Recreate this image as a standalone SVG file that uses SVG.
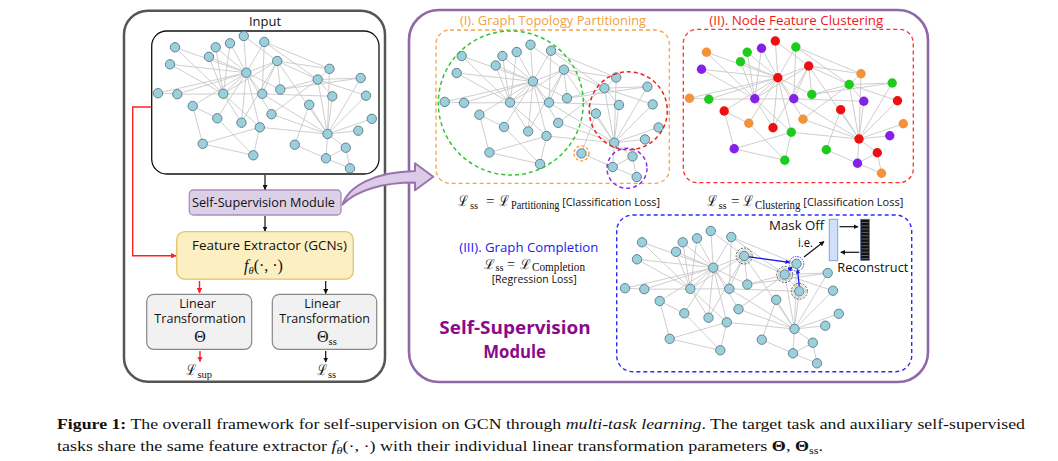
<svg xmlns="http://www.w3.org/2000/svg" xmlns:xlink="http://www.w3.org/1999/xlink" width="1058" height="461" viewBox="0 0 1058 461">
<style>
.e{stroke:#c8c8c8;stroke-width:0.9;fill:none}
.nd{fill:#9ccfdc;stroke:#4d6c78;stroke-width:0.8}
.cm{font-family:'Open Sans','DejaVu Sans',sans-serif;fill:#111}
.tm{font-family:'Liberation Serif','DejaVu Serif',serif;fill:#111}
.cal{font-family:'DejaVu Serif',serif;font-size:15px;fill:#111}
.ak{stroke:#111;stroke-width:1.2;fill:none}
.ar{stroke:#ff2020;stroke-width:1.4;fill:none}
.o{fill:#f3923a}.p{fill:#8420e8}.g{fill:#1ccc1c}.r{fill:#ee1010}
</style>
<defs>
<marker id="mk" viewBox="0 0 10 10" refX="9" refY="5" markerWidth="5" markerHeight="5" markerUnits="userSpaceOnUse" orient="auto"><path d="M0 0L10 5L0 10z" fill="#111"/></marker>
<marker id="mr" viewBox="0 0 10 10" refX="9" refY="5" markerWidth="5.5" markerHeight="5.5" markerUnits="userSpaceOnUse" orient="auto"><path d="M0 0L10 5L0 10z" fill="#ff2020"/></marker>
<marker id="mb" viewBox="0 0 10 10" refX="9" refY="5" markerWidth="4.5" markerHeight="4.5" markerUnits="userSpaceOnUse" orient="auto"><path d="M0 0L10 5L0 10z" fill="#1515ee"/></marker>
<path id="E" class="e" d="M175 47.3L246.3 72.7M175 47.3L223.3 93.8M170 64.3L246.3 72.7M170 64.3L223.3 93.8M158 93.2L177.3 94.2M158 93.2L246.3 72.7M177.3 94.2L246.3 72.7M177.3 94.2L262.3 93.8M192.7 106L246.3 72.7M192.7 106L202.7 143.8M192.7 106L217.3 118.3M215.7 47.3L246.3 72.7M215.7 47.3L223.3 93.8M209 56.8L246.3 72.7M209 56.8L223.3 93.8M230 43.3L246.3 72.7M230 43.3L223.3 93.8M243.8 36L246.3 72.7M243.8 36L277.2 61M264.3 42L246.3 72.7M264.3 42L262.3 93.8M264.3 42L317.7 79.5M264.3 42L329.5 68.8M277.2 61L246.3 72.7M277.2 61L223.3 93.8M277.2 61L262.3 93.8M277.2 61L280.3 89.5M277.2 61L241.5 122.7M277.2 61L317.7 79.5M277.2 61L329.5 68.8M277.2 61L327.5 134M246.3 72.7L223.3 93.8M246.3 72.7L262.3 93.8M246.3 72.7L280.3 89.5M246.3 72.7L217.3 118.3M246.3 72.7L241.5 122.7M246.3 72.7L259.8 127.3M246.3 72.7L271.5 114.2M223.3 93.8L259.8 127.3M223.3 93.8L241.5 122.7M262.3 93.8L327.5 134M280.3 89.5L317.7 79.5M280.3 89.5L360.7 78M217.3 118.3L253.3 155.3M259.8 127.3L253.3 155.3M259.8 127.3L202.7 143.8M202.7 143.8L253.3 155.3M259.8 127.3L327.5 134M271.5 114.2L327.5 134M271.5 114.2L317.7 79.5M317.7 79.5L329.5 68.8M317.7 79.5L360.7 78M317.7 79.5L332.3 96.3M317.7 79.5L366 95.7M317.7 79.5L327.5 134M329.5 68.8L327.5 134M360.7 78L327.5 134M332.3 96.3L327.5 134M366 95.7L327.5 134M309.2 104.8L327.5 134M309.2 104.8L294.8 144.7M371.8 118.8L327.5 134M358.3 130.7L327.5 134M294.8 144.7L326 158.3M345.8 147.7L327.5 134M345.8 147.7L326 158.3M345.8 147.7L350 168.3M326 158.3L327.5 134M326 158.3L350 168.3M262.3 93.8L332.3 96.3"/>
<g id="N">
<circle id="c1" cx="175" cy="47.3" r="4.7"/><circle id="c2" cx="170" cy="64.3" r="4.7"/><circle id="c3" cx="158" cy="93.2" r="4.7"/><circle id="c4" cx="177.3" cy="94.2" r="4.7"/><circle id="c5" cx="192.7" cy="106" r="4.7"/><circle id="c6" cx="215.7" cy="47.3" r="4.7"/><circle id="c7" cx="209" cy="56.8" r="4.7"/><circle id="c8" cx="230" cy="43.3" r="4.7"/><circle id="c9" cx="243.8" cy="36" r="4.7"/><circle id="c10" cx="264.3" cy="42" r="4.7"/><circle id="c11" cx="277.2" cy="61" r="4.7"/><circle id="c12" cx="246.3" cy="72.7" r="4.7"/><circle id="c13" cx="223.3" cy="93.8" r="4.7"/><circle id="c14" cx="262.3" cy="93.8" r="4.7"/><circle id="c15" cx="280.3" cy="89.5" r="4.7"/><circle id="c16" cx="217.3" cy="118.3" r="4.7"/><circle id="c17" cx="241.5" cy="122.7" r="4.7"/><circle id="c18" cx="259.8" cy="127.3" r="4.7"/><circle id="c19" cx="271.5" cy="114.2" r="4.7"/><circle id="c20" cx="202.7" cy="143.8" r="4.7"/><circle id="c21" cx="253.3" cy="155.3" r="4.7"/><circle id="c22" cx="317.7" cy="79.5" r="4.7"/><circle id="c23" cx="329.5" cy="68.8" r="4.7"/><circle id="c24" cx="360.7" cy="78" r="4.7"/><circle id="c25" cx="332.3" cy="96.3" r="4.7"/><circle id="c26" cx="366" cy="95.7" r="4.7"/><circle id="c27" cx="309.2" cy="104.8" r="4.7"/><circle id="c28" cx="371.8" cy="118.8" r="4.7"/><circle id="c29" cx="327.5" cy="134" r="4.7"/><circle id="c30" cx="358.3" cy="130.7" r="4.7"/><circle id="c31" cx="294.8" cy="144.7" r="4.7"/><circle id="c32" cx="345.8" cy="147.7" r="4.7"/><circle id="c33" cx="326" cy="158.3" r="4.7"/><circle id="c34" cx="350" cy="168.3" r="4.7"/>
</g>
</defs>
<rect width="1058" height="461" fill="#fff"/>

<!-- Left panel -->
<g id="left-panel">
<rect x="124" y="10.7" width="261" height="371" rx="24" fill="#fff" stroke="#555" stroke-width="2.5"/>
<text class="cm" x="265" y="25.5" font-size="13.5" text-anchor="middle" textLength="32" lengthAdjust="spacingAndGlyphs">Input</text>
</g>
<g id="input-graph">
<rect x="151.7" y="31" width="227.3" height="143" rx="15" fill="#fff" stroke="#111" stroke-width="1.3"/>
<use href="#E"/>
<use href="#N" class="nd"/>
</g>
<g id="ssm">
<rect x="189.3" y="190" width="151.7" height="25" rx="4" fill="#dcd0e6" stroke="#a88cc0" stroke-width="1.3"/>
<text class="cm" x="192" y="207" font-size="13" textLength="143" lengthAdjust="spacingAndGlyphs">Self-Supervision Module</text>
</g>
<g id="feature-extractor">
<rect x="176.7" y="231.7" width="176.6" height="47.5" rx="8" fill="#fcefc1" stroke="#e3c46a" stroke-width="1.3"/>
<text class="cm" x="192" y="249.5" font-size="13.5" textLength="155" lengthAdjust="spacingAndGlyphs">Feature Extractor (GCNs)</text>
<text class="tm" x="244" y="271" font-size="16"><tspan font-style="italic">f</tspan><tspan font-size="10.5" font-style="italic" dy="3">θ</tspan><tspan dy="-3">(·, ·)</tspan></text>
</g>
<g id="linear-sup">
<rect x="146.7" y="294.3" width="105" height="55" rx="7" fill="#f1f1f1" stroke="#888" stroke-width="1.2"/>
<text class="cm" x="179.3" y="307.5" font-size="12" textLength="36.7" lengthAdjust="spacingAndGlyphs">Linear</text>
<text class="cm" x="154.3" y="322.5" font-size="12" textLength="91.4" lengthAdjust="spacingAndGlyphs">Transformation</text>
<text class="tm" x="200" y="342" font-size="16" text-anchor="middle">Θ</text>
</g>
<g id="linear-ss">
<rect x="272.3" y="294.3" width="104.4" height="55" rx="7" fill="#f1f1f1" stroke="#888" stroke-width="1.2"/>
<text class="cm" x="304.3" y="307.5" font-size="12" textLength="36.4" lengthAdjust="spacingAndGlyphs">Linear</text>
<text class="cm" x="279.3" y="322.5" font-size="12" textLength="90.7" lengthAdjust="spacingAndGlyphs">Transformation</text>
<text class="tm" x="317" y="342" font-size="16">Θ<tspan font-size="10.5" dy="3">ss</tspan></text>
</g>
<g id="loss-sup">
<text class="cal" x="186" y="375" textLength="10.5" lengthAdjust="spacingAndGlyphs">ℒ</text>
<text class="tm" x="197.5" y="378" font-size="10.5">sup</text>
</g>
<g id="loss-ss">
<text class="cal" x="316.5" y="375" textLength="10.5" lengthAdjust="spacingAndGlyphs">ℒ</text>
<text class="tm" x="328" y="378" font-size="10.5">ss</text>
</g>

<!-- Right panel -->
<g id="right-panel">
<rect x="409" y="10" width="519" height="372" rx="30" fill="#fff" stroke="#8f68a8" stroke-width="2.6"/>
<text x="439.3" y="334" font-size="18" font-weight="bold" fill="#8b0a8b" font-family="'Open Sans','DejaVu Sans',sans-serif" textLength="151.4" lengthAdjust="spacingAndGlyphs">Self-Supervision</text>
<text x="483.3" y="358" font-size="18" font-weight="bold" fill="#8b0a8b" font-family="'Open Sans','DejaVu Sans',sans-serif" textLength="62.7" lengthAdjust="spacingAndGlyphs">Module</text>
</g>

<g id="partitioning">
<text x="460" y="25" font-size="13" fill="#f5a040" font-family="'Open Sans','DejaVu Sans',sans-serif" textLength="186" lengthAdjust="spacingAndGlyphs">(I). Graph Topology Partitioning</text>
<rect x="436" y="30" width="233.3" height="153.3" rx="14" fill="none" stroke="#f5a445" stroke-width="1.3" stroke-dasharray="4 3"/>
<g transform="translate(286.7,8.7)">
<use href="#E"/>
<use href="#N" class="nd"/>
</g>
<ellipse cx="510.8" cy="103" rx="72.5" ry="72" fill="none" stroke="#2ec62e" stroke-width="1.5" stroke-dasharray="4 3"/>
<circle cx="628.3" cy="110.8" r="39" fill="none" stroke="#ee2020" stroke-width="1.5" stroke-dasharray="4 3"/>
<circle cx="581.5" cy="153.4" r="7.5" fill="none" stroke="#f5a040" stroke-width="1.4" stroke-dasharray="3 2"/>
<circle cx="627" cy="168.3" r="20" fill="none" stroke="#8a30e0" stroke-width="1.5" stroke-dasharray="4 3"/>
<text class="cal" x="458" y="206" textLength="10.5" lengthAdjust="spacingAndGlyphs">ℒ</text>
<text class="tm" x="470" y="209" font-size="10.5">ss</text>
<text class="tm" x="486" y="206" font-size="15">=</text>
<text class="cal" x="499" y="206" textLength="10.5" lengthAdjust="spacingAndGlyphs">ℒ</text>
<text class="tm" x="511" y="209" font-size="11.5" textLength="48.5" lengthAdjust="spacingAndGlyphs">Partitioning</text>
<text class="cm" x="562.3" y="206" font-size="10.5" textLength="97.7" lengthAdjust="spacingAndGlyphs">[Classification Loss]</text>
</g>

<g id="clustering">
<text x="709.3" y="24.5" font-size="13" fill="#ee1a1a" font-family="'Open Sans','DejaVu Sans',sans-serif" textLength="174" lengthAdjust="spacingAndGlyphs">(II). Node Feature Clustering</text>
<rect x="683.3" y="29.3" width="230" height="153.4" rx="14" fill="none" stroke="#ff3030" stroke-width="1.3" stroke-dasharray="4 3"/>
<g transform="translate(531.5,5)">
<use href="#E"/>
<use href="#c1" class="o"/><use href="#c2" class="p"/><use href="#c3" class="o"/><use href="#c4" class="g"/><use href="#c5" class="r"/><use href="#c6" class="g"/><use href="#c7" class="g"/><use href="#c8" class="p"/><use href="#c9" class="r"/><use href="#c10" class="g"/><use href="#c11" class="r"/><use href="#c12" class="r"/><use href="#c13" class="p"/><use href="#c14" class="p"/><use href="#c15" class="g"/><use href="#c16" class="o"/><use href="#c17" class="r"/><use href="#c18" class="g"/><use href="#c19" class="o"/><use href="#c20" class="p"/><use href="#c21" class="g"/><use href="#c22" class="g"/><use href="#c23" class="o"/><use href="#c24" class="g"/><use href="#c25" class="p"/><use href="#c26" class="r"/><use href="#c27" class="r"/><use href="#c28" class="o"/><use href="#c29" class="r"/><use href="#c30" class="p"/><use href="#c31" class="g"/><use href="#c32" class="r"/><use href="#c33" class="p"/><use href="#c34" class="o"/>
</g>
<text class="cal" x="707" y="206" textLength="10.5" lengthAdjust="spacingAndGlyphs">ℒ</text>
<text class="tm" x="718.5" y="209" font-size="10.5">ss</text>
<text class="tm" x="731" y="206" font-size="15">=</text>
<text class="cal" x="743" y="206" textLength="10.5" lengthAdjust="spacingAndGlyphs">ℒ</text>
<text class="tm" x="755" y="209" font-size="11.5" textLength="45.5" lengthAdjust="spacingAndGlyphs">Clustering</text>
<text class="cm" x="803.3" y="206" font-size="10.5" textLength="100" lengthAdjust="spacingAndGlyphs">[Classification Loss]</text>
</g>

<g id="completion">
<text x="459.3" y="251.5" font-size="12.5" fill="#1a1aee" font-family="'Open Sans','DejaVu Sans',sans-serif" textLength="139" lengthAdjust="spacingAndGlyphs">(III). Graph Completion</text>
<text class="cal" x="484" y="268.5" font-size="13.5" style="font-size:13.5px" textLength="10.5" lengthAdjust="spacingAndGlyphs">ℒ</text>
<text class="tm" x="495.5" y="271" font-size="10.5">ss</text>
<text class="tm" x="507" y="268.5" font-size="14">=</text>
<text class="cal" x="520" y="268.5" style="font-size:13.5px" textLength="10.5" lengthAdjust="spacingAndGlyphs">ℒ</text>
<text class="tm" x="532" y="271" font-size="11.5" textLength="53" lengthAdjust="spacingAndGlyphs">Completion</text>
<text class="cm" x="491.7" y="282.5" font-size="10.5" textLength="85" lengthAdjust="spacingAndGlyphs">[Regression Loss]</text>
<rect x="616.7" y="215" width="295" height="156.7" rx="16" fill="none" stroke="#2a2aff" stroke-width="1.4" stroke-dasharray="4 3"/>
<g transform="translate(467,195)">
<use href="#E"/>
<use href="#N" class="nd"/>
</g>
<g fill="none" stroke="#444" stroke-width="0.9" stroke-dasharray="2 1.4">
<circle cx="744.2" cy="256" r="8"/><circle cx="784.7" cy="274.5" r="8"/><circle cx="799.3" cy="291.3" r="8"/>
</g>
<g fill="none" stroke="#aaa" stroke-width="0.6">
<circle cx="744.2" cy="256" r="6.3"/><circle cx="784.7" cy="274.5" r="6.3"/><circle cx="799.3" cy="291.3" r="6.3"/>
</g>
<circle cx="796.5" cy="263.8" r="7.3" fill="none" stroke="#2a2aff" stroke-width="0.9" stroke-dasharray="1.5 1"/>
<g stroke="#1515ee" stroke-width="1.3" fill="none">
<path d="M749 256.8L789.5 262.3" marker-end="url(#mb)"/>
<path d="M788.5 270.5L792 267" marker-end="url(#mb)"/>
<path d="M799.2 286L797.6 269.5" marker-end="url(#mb)"/>
</g>
<text class="cm" x="769" y="229.5" font-size="12.5" textLength="55.3" lengthAdjust="spacingAndGlyphs">Mask Off</text>
<text class="cm" x="798" y="246.5" font-size="12" textLength="15" lengthAdjust="spacingAndGlyphs">i.e.</text>
<path class="ak" d="M804 257L824 241.5" marker-end="url(#mk)"/>
<rect x="829.3" y="219.3" width="8.4" height="41.4" fill="#cfe0f8" stroke="#86a6d4" stroke-width="1"/>
<rect x="860.7" y="219.3" width="8.6" height="41" fill="#111" stroke="#4a6ea8" stroke-width="0.8"/>
<path d="M861.5 222.5H868.5M861.5 225.8H868.5M861.5 229.1H868.5M861.5 232.4H868.5M861.5 235.7H868.5M861.5 239H868.5M861.5 242.3H868.5M861.5 245.6H868.5M861.5 248.9H868.5M861.5 252.2H868.5M861.5 255.5H868.5M861.5 258.6H868.5" stroke="#9a9a9a" stroke-width="0.6"/>
<path class="ak" d="M839.5 226.7H858" marker-end="url(#mk)"/>
<path class="ak" d="M859.3 252.3H840.8" marker-end="url(#mk)"/>
<text class="cm" x="837.3" y="271.8" font-size="12.5" textLength="71" lengthAdjust="spacingAndGlyphs">Reconstruct</text>
</g>

<!-- Connectors -->
<g id="connectors">
<path class="ak" d="M265 175V189.5" marker-end="url(#mk)"/>
<path class="ak" d="M265 216V231" marker-end="url(#mk)"/>
<path class="ar" d="M151.7 107H132.7V255.7H176" marker-end="url(#mr)"/>
<path class="ar" d="M199.5 281V293" marker-end="url(#mr)"/>
<path class="ak" d="M325.7 281V293.5" marker-end="url(#mk)"/>
<path class="ar" d="M200 351V361.5" marker-end="url(#mr)"/>
<path class="ak" d="M325.7 351V362" marker-end="url(#mk)"/>
<path d="M342.5 204.5C349 185 376 172 415 171L415 163.3L433.3 176.8L415 190.3L415 182.6C384 182.5 357 190 342.5 204.5Z" fill="#dccbe8" stroke="#9a72ad" stroke-width="2" stroke-linejoin="round"/>
</g>

<!-- Caption -->
<g id="caption" class="tm" font-size="15.5">
<text x="57" y="429" textLength="968" lengthAdjust="spacingAndGlyphs"><tspan font-weight="bold">Figure 1:</tspan> The overall framework for self-supervision on GCN through <tspan font-style="italic">multi-task learning</tspan>. The target task and auxiliary self-supervised</text>
<text x="57" y="451" textLength="766" lengthAdjust="spacingAndGlyphs">tasks share the same feature extractor <tspan font-style="italic">f</tspan><tspan font-style="italic" font-size="10.5" dy="2.5">θ</tspan><tspan dy="-2.5">(·, ·) with their individual linear transformation parameters </tspan><tspan font-weight="bold">Θ</tspan>, <tspan font-weight="bold">Θ</tspan><tspan font-size="10.5" dy="2.5">ss</tspan><tspan dy="-2.5">.</tspan></text>
</g>
</svg>
